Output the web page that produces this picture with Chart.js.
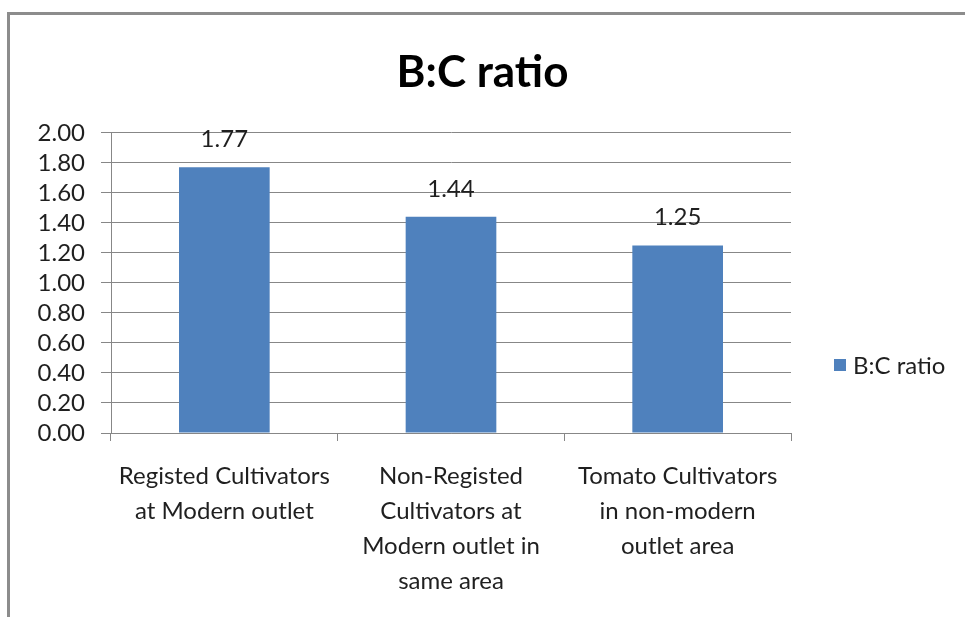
<!DOCTYPE html>
<html>
<head>
<meta charset="utf-8">
<script src="https://cdn.jsdelivr.net/npm/chart.js@4"></script>
<style>
  html, body { margin: 0; padding: 0; background: #fff; }
  #frame { position: absolute; left: 7px; top: 12px; width: 1000px; height: 700px;
           border-left: 3px solid #8c8c8c; border-top: 3px solid #8c8c8c; }
  #chartBox { position: absolute; left: 0; top: 0; width: 965px; height: 617px; }
</style>
</head>
<body>
<div id="frame"></div>
<div id="chartBox"><canvas id="barChart" width="965" height="617"></canvas></div>
<script>
var categories = [
    ["Registed Cultivators", "at Modern outlet"],
    ["Non-Registed", "Cultivators at", "Modern outlet in", "same area"],
    ["Tomato Cultivators", "in non-modern", "outlet area"]
];
var bcRatio = [1.77, 1.44, 1.25];
var seriesName = "B:C ratio";
var yTicks = [0, 0.2, 0.4, 0.6, 0.8, 1.0, 1.2, 1.4, 1.6, 1.8, 2.0];

var textColor = "#1f1f1f";
var lineColor = "#878787";
var barColor = "#4f81bd";
var fontFam = "Lato, 'Open Sans', sans-serif";

// value labels above each bar
var valueLabels = {
    id: "valueLabels",
    afterDatasetsDraw: function(chart) {
        var ctx = chart.ctx;
        var meta = chart.getDatasetMeta(0);
        ctx.save();
        ctx.font = "24px " + fontFam;
        ctx.fillStyle = textColor;
        ctx.textAlign = "center";
        ctx.textBaseline = "middle";
        meta.data.forEach(function(bar, i) {
            ctx.fillText(chart.data.datasets[0].data[i].toFixed(2), bar.x, bar.y - 28);
        });
        ctx.restore();
    }
};

// legend on the right, like the excel one
var sideLegend = {
    id: "sideLegend",
    afterDraw: function(chart) {
        var ctx = chart.ctx;
        var ds = chart.data.datasets[0];
        ctx.save();
        ctx.fillStyle = ds.backgroundColor;
        ctx.fillRect(834, 359, 12, 12);
        ctx.font = "24px " + fontFam;
        ctx.fillStyle = textColor;
        ctx.textAlign = "left";
        ctx.textBaseline = "middle";
        ctx.fillText(ds.label, 853, 366);
        ctx.restore();
    }
};

// title is centred on the whole canvas, not just the padded part
var wideTitle = {
    id: "wideTitle",
    afterLayout: function(chart) {
        var t = chart.titleBlock;
        if (t) {
            t.left = 0;
            t.right = chart.width;
            t.width = chart.width;
        }
    }
};

var config = {
    type: "bar",
    data: {
        labels: categories,
        datasets: [{
            label: seriesName,
            data: bcRatio,
            backgroundColor: barColor,
            borderWidth: 0,
            barPercentage: 0.4,
            categoryPercentage: 1.0
        }]
    },
    options: {
        responsive: false,
        animation: false,
        layout: { padding: { left: 0, right: 174, top: 0, bottom: 0 } },
        plugins: {
            legend: { display: false },
            tooltip: { enabled: false },
            title: {
                display: true,
                text: "B:C ratio",
                color: "#000",
                font: { family: fontFam, size: 44, weight: "bold", lineHeight: 1.2 },
                padding: { top: 46, bottom: 34 }
            }
        },
        scales: {
            x: {
                grid: { offset: true, drawOnChartArea: false, color: lineColor, tickLength: 8 },
                border: { color: lineColor },
                ticks: {
                    color: textColor,
                    maxRotation: 0,
                    autoSkip: false,
                    padding: 18,
                    font: { family: fontFam, size: 24, lineHeight: 1.46 }
                },
                afterFit: function(scale) { scale.height = 184; }
            },
            y: {
                min: 0,
                max: 2,
                afterBuildTicks: function(scale) {
                    scale.ticks = yTicks.map(function(v) { return { value: v }; });
                },
                grid: { color: lineColor, tickLength: 10 },
                border: { color: lineColor },
                ticks: {
                    color: textColor,
                    autoSkip: false,
                    padding: 16,
                    font: { family: fontFam, size: 24, lineHeight: 1.1 },
                    callback: function(v) { return Number(v).toFixed(2); }
                },
                afterFit: function(scale) { scale.width = 111; }
            }
        }
    },
    plugins: [valueLabels, sideLegend, wideTitle]
};

var ctx = document.getElementById("barChart").getContext("2d");
var bcChart = new Chart(ctx, config);
</script>
</body>
</html>
